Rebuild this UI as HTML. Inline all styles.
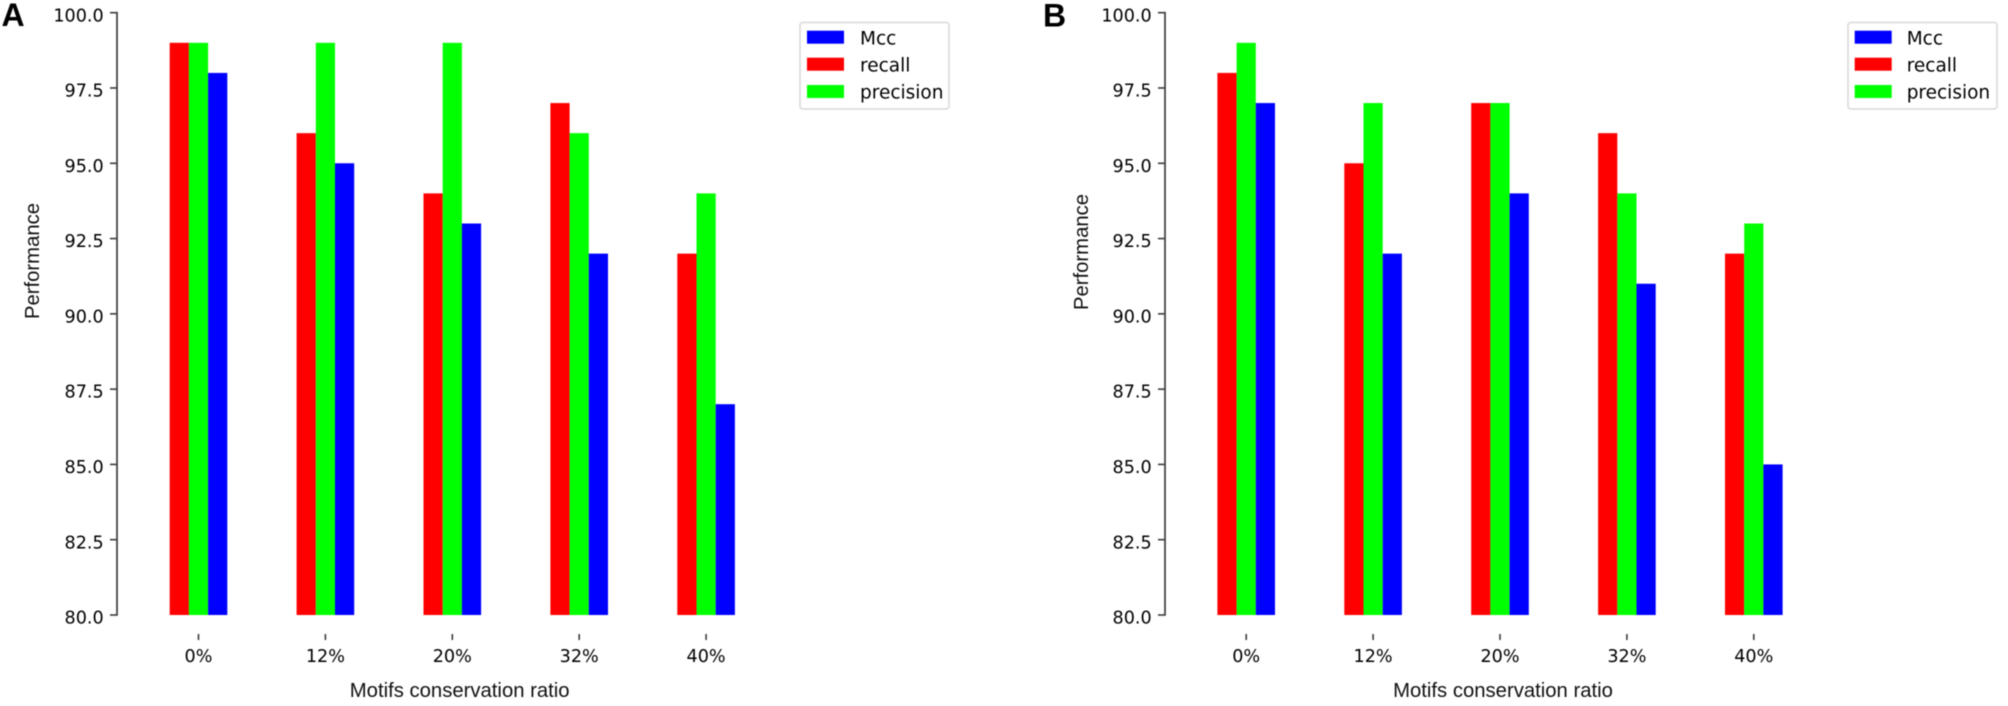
<!DOCTYPE html>
<html lang="en">
<head>
<meta charset="utf-8">
<title>Performance by motifs conservation ratio</title>
<style>
  html, body { margin: 0; padding: 0; background: #fff; }
  body { width: 2008px; height: 706px; overflow: hidden; }
  svg { display: block; filter: blur(0.45px); }
  .dv { font-family: "DejaVu Sans", sans-serif; font-size: 17.6px; fill: #000; }
  .dv.leg { font-size: 18.5px; }
  .lib { font-family: "Liberation Sans", sans-serif; font-size: 20.3px; fill: #111; }
  .letter { font-family: "Liberation Sans", sans-serif; font-size: 32px; font-weight: bold; fill: #000; }
</style>
</head>
<body>
<svg id="figure" xmlns="http://www.w3.org/2000/svg" width="2008" height="706" viewBox="0 0 2008 706">
  <rect width="2008" height="706" fill="#fff"/>

  <g id="panel-a">
    <text class="letter" x="1.5" y="26">A</text>
    <text class="lib" text-anchor="middle" transform="translate(39 261) rotate(-90)">Performance</text>
    <text class="lib" text-anchor="middle" x="459.7" y="697">Motifs conservation ratio</text>
    <g id="marks-a"></g>
    <g>
      <rect x="800" y="22.5" width="149" height="86.5" rx="3" fill="#fff" stroke="#ddd" stroke-width="1.8"/>
      <rect x="807" y="30.7" width="37" height="13" fill="#0000ff"/>
      <text class="dv leg" x="860" y="44.5">Mcc</text>
      <rect x="807" y="57.7" width="37" height="13" fill="#ff0000"/>
      <text class="dv leg" x="860" y="71.5">recall</text>
      <rect x="807" y="85" width="37" height="13" fill="#00ff00"/>
      <text class="dv leg" x="860" y="98.5">precision</text>
    </g>
  </g>

  <g id="panel-b">
    <text class="letter" x="1043" y="26.5">B</text>
    <text class="lib" text-anchor="middle" transform="translate(1088 252) rotate(-90)">Performance</text>
    <text class="lib" text-anchor="middle" x="1503" y="697">Motifs conservation ratio</text>
    <g id="marks-b"></g>
    <g>
      <rect x="1848" y="22.5" width="149" height="86.5" rx="3" fill="#fff" stroke="#ddd" stroke-width="1.8"/>
      <rect x="1854.7" y="30.7" width="37" height="13" fill="#0000ff"/>
      <text class="dv leg" x="1906.7" y="44.5">Mcc</text>
      <rect x="1854.7" y="57.7" width="37" height="13" fill="#ff0000"/>
      <text class="dv leg" x="1906.7" y="71.5">recall</text>
      <rect x="1854.7" y="85" width="37" height="13" fill="#00ff00"/>
      <text class="dv leg" x="1906.7" y="98.5">precision</text>
    </g>
  </g>
</svg>

<script>
const categories = ['0%', '12%', '20%', '32%', '40%'];
const yTicks = [80, 82.5, 85, 87.5, 90, 92.5, 95, 97.5, 100];

const recallA = [99, 96, 94, 97, 92];
const precisionA = [99, 99, 99, 96, 94];
const mccA = [98, 95, 93, 92, 87];

const recallB = [98, 95, 97, 96, 92];
const precisionB = [99, 97, 97, 94, 93];
const mccB = [97, 92, 94, 91, 85];

const SVG_NS = 'http://www.w3.org/2000/svg';
const Y_MIN = 80;
const Y_MAX = 100;
const PLOT_TOP = 12.7;
const PLOT_BOTTOM = 615;
const BAR_WIDTH = 19.2;
const GROUP_STEP = 126.9;
const AXIS_COLOR = '#3c3c3c';

function yScale(value) {
  return PLOT_BOTTOM - (value - Y_MIN) / (Y_MAX - Y_MIN) * (PLOT_BOTTOM - PLOT_TOP);
}

function make(tag, attrs, parent) {
  const el = document.createElementNS(SVG_NS, tag);
  Object.keys(attrs).forEach(function (k) { el.setAttribute(k, attrs[k]); });
  parent.appendChild(el);
  return el;
}

function drawPanel(id, suffix, axisX, firstCenter, series) {
  const root = document.getElementById(id);
  const xScale = function (index) { return firstCenter + index * GROUP_STEP; };

  categories.forEach(function (category, i) {
    series.forEach(function (s, j) {
      const top = yScale(s.values[i]);
      const bar = make('rect', {
        x: xScale(i) + (j - 1.5) * BAR_WIDTH,
        y: top,
        width: BAR_WIDTH,
        height: yScale(Y_MIN) - top,
        fill: s.color
      }, root);
      
      
    });

    const tick = make('line', {
      x1: xScale(i), x2: xScale(i), y1: 634, y2: 640,
      stroke: AXIS_COLOR, 'stroke-width': 1.6
    }, root);
    
    

    const label = make('text', {
      x: xScale(i), y: 661.8, 'text-anchor': 'middle', class: 'dv'
    }, root);
    label.textContent = category;
    
    
  });

  const spine = make('line', {
    x1: axisX, x2: axisX, y1: yScale(Y_MAX) - 0.8, y2: yScale(Y_MIN) + 0.8,
    stroke: AXIS_COLOR, 'stroke-width': 1.7
  }, root);
  
  

  yTicks.forEach(function (value, i) {
    const tick = make('line', {
      x1: axisX - 7, x2: axisX, y1: yScale(value), y2: yScale(value),
      stroke: AXIS_COLOR, 'stroke-width': 1.6
    }, root);
    
    

    const label = make('text', {
      x: axisX - 13.3, y: yScale(value) + 8.6, 'text-anchor': 'end', class: 'dv'
    }, root);
    label.textContent = value.toFixed(1);
    
    
  });
}

drawPanel('marks-a', 'a', 117, 198.5, [
  { name: 'recall', color: '#ff0000', values: recallA },
  { name: 'precision', color: '#00ff00', values: precisionA },
  { name: 'mcc', color: '#0000ff', values: mccA }
]);

drawPanel('marks-b', 'b', 1165, 1246.2, [
  { name: 'recall', color: '#ff0000', values: recallB },
  { name: 'precision', color: '#00ff00', values: precisionB },
  { name: 'mcc', color: '#0000ff', values: mccB }
]);
</script>
</body>
</html>
